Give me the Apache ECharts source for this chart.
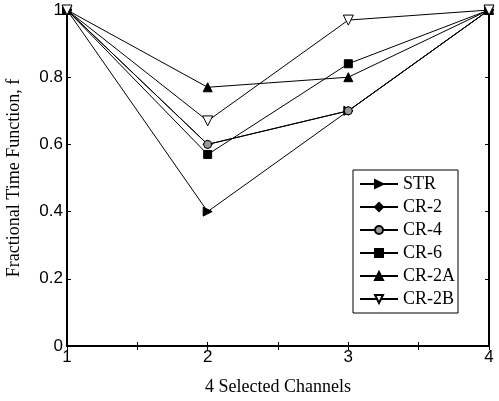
<!DOCTYPE html>
<html>
<head>
<meta charset="utf-8">
<script src="https://cdn.jsdelivr.net/npm/echarts@6/dist/echarts.min.js"></script>
<style>
  html, body { margin: 0; padding: 0; background: #fff; }
  #chart { width: 499px; height: 401px; }
</style>
</head>
<body>
<div id="chart"></div>
<script>
  // channels on the x axis
  var channels = [1, 2, 3, 4];
  var seriesNames = ['STR', 'CR-2', 'CR-4', 'CR-6', 'CR-2A', 'CR-2B'];
  // fractional time function values, one per channel
  var strVals  = [1, 0.40, 0.70, 1];
  var cr2Vals  = [1, 0.60, 0.70, 1];
  var cr4Vals  = [1, 0.60, 0.70, 1];
  var cr6Vals  = [1, 0.57, 0.84, 1];
  var cr2aVals = [1, 0.77, 0.80, 1];
  var cr2bVals = [1, 0.67, 0.97, 1];

  function pairs(vals) {
    return channels.map(function (c, i) { return [c, vals[i]]; });
  }

  var serif = '"Liberation Serif", "Times New Roman", serif';
  var sans = '"Liberation Sans", Arial, sans-serif';

  // marker style per series
  var marks = [
    { symbol: 'triangle', rotate: -90, fill: '#000', size: 9 },
    { symbol: 'diamond', rotate: 0, fill: '#000', size: 9 },
    { symbol: 'circle', rotate: 0, fill: '#999', size: 8 },
    { symbol: 'rect', rotate: 0, fill: '#000', size: 8 },
    { symbol: 'triangle', rotate: 0, fill: '#000', size: 9 },
    { symbol: 'triangle', rotate: 180, fill: '#fff', size: 10 }
  ];
  var allVals = [strVals, cr2Vals, cr4Vals, cr6Vals, cr2aVals, cr2bVals];

  var series = seriesNames.map(function (name, i) {
    var m = marks[i];
    return {
      name: name,
      type: 'line',
      data: pairs(allVals[i]),
      symbol: m.symbol,
      symbolRotate: m.rotate,
      symbolSize: m.size,
      showAllSymbol: true,
      lineStyle: { color: '#000', width: 1 },
      itemStyle: { color: m.fill, borderColor: '#000', borderWidth: 1 },
      emphasis: { disabled: true },
      z: 2 + i
    };
  });

  var option = {
    animation: false,
    backgroundColor: '#fff',
    grid: { left: 67, right: 10, top: 10, bottom: 55, containLabel: false, outerBoundsMode: 'none' },
    legend: {
      data: seriesNames,
      orient: 'vertical',
      left: 353,
      top: 170,
      padding: [5, 3, 5, 6],
      itemGap: 5,
      itemWidth: 38,
      itemHeight: 10,
      borderColor: '#000',
      borderWidth: 1,
      backgroundColor: '#fff',
      textStyle: { fontFamily: serif, fontSize: 18, color: '#000' }
    },
    xAxis: [{
      type: 'value',
      min: 1,
      max: 4,
      interval: 0.5,
      name: '4 Selected Channels',
      nameLocation: 'middle',
      nameGap: 32,
      nameTextStyle: { fontFamily: serif, fontSize: 18, color: '#000' },
      axisLine: { lineStyle: { color: '#000', width: 2 } },
      axisTick: { inside: true, length: 4, lineStyle: { color: '#000' } },
      axisLabel: {
        color: '#000', fontFamily: sans, fontSize: 17, margin: 3,
        formatter: function (v) { return Number.isInteger(v) ? String(v) : ''; }
      },
      splitLine: { show: false }
    }, {
      type: 'value',
      position: 'top',
      min: 1,
      max: 4,
      interval: 0.5,
      axisLine: { lineStyle: { color: '#000', width: 2 } },
      axisTick: { inside: true, length: 4, lineStyle: { color: '#000' } },
      axisLabel: { show: false },
      splitLine: { show: false }
    }],
    yAxis: [{
      type: 'value',
      min: 0,
      max: 1,
      interval: 0.2,
      name: 'Fractional Time Function, f',
      nameLocation: 'middle',
      nameGap: 44,
      nameTextStyle: { fontFamily: serif, fontSize: 18, color: '#000' },
      axisLine: { show: true, lineStyle: { color: '#000', width: 2 } },
      axisTick: { show: true, inside: true, length: 4, lineStyle: { color: '#000' } },
      axisLabel: {
        color: '#000', fontFamily: sans, fontSize: 17, margin: 4,
        formatter: function (v) { return String(Math.round(v * 10) / 10); }
      },
      splitLine: { show: false }
    }, {
      type: 'value',
      position: 'right',
      min: 0,
      max: 1,
      interval: 0.2,
      axisLine: { show: true, lineStyle: { color: '#000', width: 2 } },
      axisTick: { show: true, inside: true, length: 4, lineStyle: { color: '#000' } },
      axisLabel: { show: false },
      splitLine: { show: false }
    }],
    series: series
  };

  var myChart = echarts.init(document.getElementById('chart'), null, { renderer: 'canvas' });
  myChart.setOption(option);
</script>
</body>
</html>
